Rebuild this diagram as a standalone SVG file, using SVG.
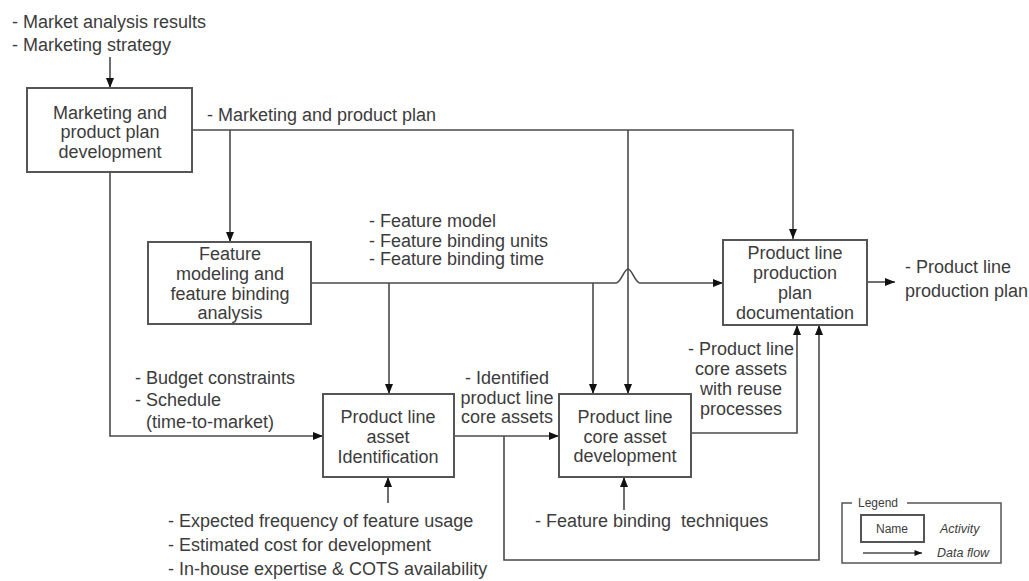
<svg xmlns="http://www.w3.org/2000/svg" width="1029" height="581" viewBox="0 0 1029 581">
<style>
  text { font-family: "Liberation Sans", Arial, sans-serif; font-size: 18px; fill: #3c3c3c; }
  .c { text-anchor: middle; }
  .box { fill: #ffffff; stroke: #555555; stroke-width: 2; }
  .ln { fill: none; stroke: #4a4a4a; stroke-width: 1.6; }
  .lg { font-size: 12px; }
  .it { font-size: 12.5px; font-style: italic; }
</style>
<defs>
  <marker id="arr" viewBox="0 0 10 8" refX="10" refY="4" markerWidth="10" markerHeight="8" markerUnits="userSpaceOnUse" orient="auto">
    <path d="M0,0 L10,4 L0,8 z" fill="#111111"/>
  </marker>
  <marker id="arrs" viewBox="0 0 10 8" refX="10" refY="4" markerWidth="8" markerHeight="6" markerUnits="userSpaceOnUse" orient="auto">
    <path d="M0,0 L10,4 L0,8 z" fill="#111111"/>
  </marker>
</defs>
<rect width="1029" height="581" fill="#ffffff"/>

<g id="connectors">
  <path class="ln" d="M110,57 V88" marker-end="url(#arr)"/>
  <path class="ln" d="M192,130 H793 V239" marker-end="url(#arr)"/>
  <path class="ln" d="M230,130 V242" marker-end="url(#arr)"/>
  <path class="ln" d="M628,130 V394" marker-end="url(#arr)"/>
  <path class="ln" d="M110,172 V436 H323" marker-end="url(#arr)"/>
  <path class="ln" d="M311,283 H616 C621,283 624,269 628,269 C632,269 635,283 640,283 H723" marker-end="url(#arr)"/>
  <path class="ln" d="M389,283 V394" marker-end="url(#arr)"/>
  <path class="ln" d="M593,283 V394" marker-end="url(#arr)"/>
  <path class="ln" d="M867,282 H895" marker-end="url(#arr)"/>
  <path class="ln" d="M454,436 H559" marker-end="url(#arr)"/>
  <path class="ln" d="M504,436 V560 H819 V325" marker-end="url(#arr)"/>
  <path class="ln" d="M691,433 H797 V325" marker-end="url(#arr)"/>
  <path class="ln" d="M388,503 V477" marker-end="url(#arr)"/>
  <path class="ln" d="M624,510 V477" marker-end="url(#arr)"/>
</g>

<g id="marketing-plan">
  <rect class="box" x="27" y="88" width="165" height="84"/>
  <text class="c" x="110" y="119">Marketing and</text>
  <text class="c" x="110" y="138">product plan</text>
  <text class="c" x="110" y="158">development</text>
</g>

<g id="feature-modeling">
  <rect class="box" x="148" y="242" width="163" height="82"/>
  <text class="c" x="230" y="260">Feature</text>
  <text class="c" x="230" y="280">modeling and</text>
  <text class="c" x="230" y="300">feature binding</text>
  <text class="c" x="230" y="319">analysis</text>
</g>

<g id="production-plan-doc">
  <rect class="box" x="723" y="240" width="144" height="85"/>
  <text class="c" x="795" y="259">Product line</text>
  <text class="c" x="795" y="279">production</text>
  <text class="c" x="795" y="299">plan</text>
  <text class="c" x="795" y="319">documentation</text>
</g>

<g id="asset-identification">
  <rect class="box" x="323" y="394" width="131" height="83"/>
  <text class="c" x="388" y="423">Product line</text>
  <text class="c" x="388" y="443">asset</text>
  <text class="c" x="388" y="463">Identification</text>
</g>

<g id="core-asset-development">
  <rect class="box" x="559" y="394" width="132" height="83"/>
  <text class="c" x="625" y="423">Product line</text>
  <text class="c" x="625" y="443">core asset</text>
  <text class="c" x="625" y="462">development</text>
</g>

<g id="labels">
  <text x="12" y="28">- Market analysis results</text>
  <text x="12" y="51">- Marketing strategy</text>
  <text x="207" y="121">- Marketing and product plan</text>
  <text x="369" y="227">- Feature model</text>
  <text x="369" y="247">- Feature binding units</text>
  <text x="369" y="265">- Feature binding time</text>
  <text x="905" y="273">- Product line</text>
  <text x="905" y="297">production plan</text>
  <text x="135" y="384">- Budget constraints</text>
  <text x="135" y="406">- Schedule</text>
  <text x="146" y="428">(time-to-market)</text>
  <text class="c" x="507" y="384">- Identified</text>
  <text class="c" x="507" y="404">product line</text>
  <text class="c" x="507" y="423">core assets</text>
  <text class="c" x="741" y="355">- Product line</text>
  <text class="c" x="741" y="375">core assets</text>
  <text class="c" x="741" y="395">with reuse</text>
  <text class="c" x="741" y="415">processes</text>
  <text x="168" y="527">- Expected frequency of feature usage</text>
  <text x="168" y="551">- Estimated cost for development</text>
  <text x="168" y="575">- In-house expertise &amp; COTS availability</text>
  <text x="535" y="527" style="white-space:pre">- Feature binding  techniques</text>
</g>

<g id="legend">
  <rect x="842" y="503" width="159" height="60" fill="none" stroke="#555555" stroke-width="1.5"/>
  <rect x="852" y="497" width="55" height="10" fill="#ffffff"/>
  <text class="lg" x="858" y="507">Legend</text>
  <rect class="box" x="861" y="515" width="63" height="27"/>
  <text class="lg c" x="892" y="533">Name</text>
  <text class="it" x="940" y="533">Activity</text>
  <path class="ln" d="M863,553 H922" marker-end="url(#arrs)"/>
  <text class="it" x="937" y="557">Data flow</text>
</g>
</svg>
